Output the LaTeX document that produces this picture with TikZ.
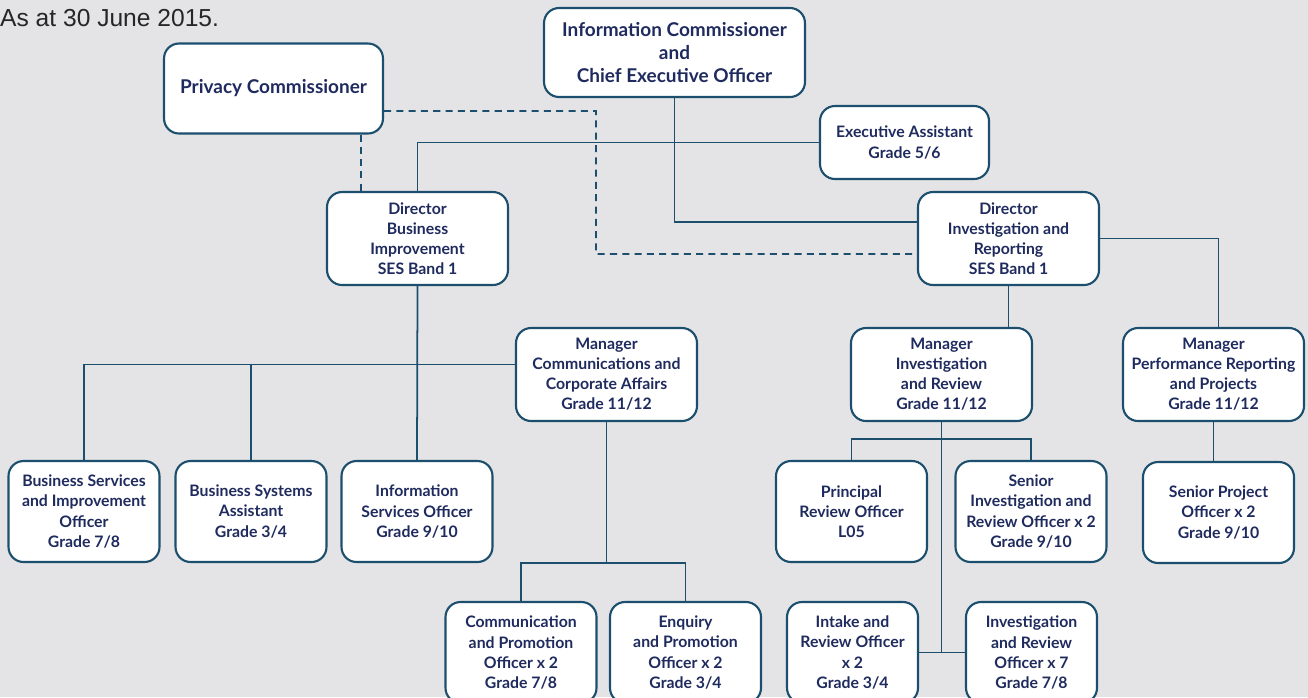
\documentclass[tikz,border=0pt]{standalone}
\usepackage{fontspec}
\setmainfont{Liberation Sans}
\newfontfamily\boxfont{Lato}
\usetikzlibrary{positioning}
\definecolor{pagegray}{RGB}{228,228,230}
\definecolor{framecol}{RGB}{28,79,110}
\definecolor{labelcol}{RGB}{31,43,94}
\begin{document}
\begin{tikzpicture}[
      x=0.02cm, y=-0.02cm,
      unit/.style={rectangle, draw=framecol, line width=1.2pt, fill=white, rounded corners=0.3cm, align=center, text=labelcol, font=\boxfont\bfseries\fontsize{9}{11.4}\selectfont, inner sep=1pt},
      head/.style={unit, font=\boxfont\bfseries\fontsize{10.8}{13}\selectfont},
      small/.style={unit, minimum width=3.02cm, minimum height=2.02cm},
      mid/.style={unit, minimum width=3.62cm, minimum height=1.86cm},
      link/.style={draw=framecol, line width=1pt},
      dotted link/.style={link, dashed, dash pattern=on 4pt off 3pt}
  ]
      \fill[pagegray] (0,0) rectangle (1308,697);
      \useasboundingbox (0,0) rectangle (1308,697);
      \node[anchor=west, font=\fontsize{14}{16}\selectfont, text=black!85] (date) at (-6,18) {As at 30 June 2015.};

      % Top level
      \node[head, minimum width=5.22cm, minimum height=1.78cm] (ic) at (674.5,52.5) {Information Commissioner\\ and\\ Chief Executive Officer};
      \node[head, minimum width=4.38cm, minimum height=1.8cm] (pc) at (273.5,88.5) {Privacy Commissioner};
      \node[unit, minimum width=3.38cm, minimum height=1.46cm] (ea) at (904.5,142.5) {Executive Assistant\\ Grade 5/6};

      % Directors
      \node[mid] (dbi) at (417.5,238.5) {Director\\ Business\\ Improvement\\ SES Band 1};
      \node[mid] (dir) at (1008.5,238.5) {Director\\ Investigation and\\ Reporting\\ SES Band 1};

      % Managers
      \node[mid] (mcc) at (606.5,374.5) {Manager\\ Communications and\\ Corporate Affairs\\ Grade 11/12};
      \node[mid] (mir) at (941.5,374.5) {Manager\\ Investigation\\ and Review\\ Grade 11/12};
      \node[mid] (mpr) at (1213.5,374.5) {Manager\\ Performance Reporting\\ and Projects\\ Grade 11/12};

      % Officers
      \node[small] (bso) at (84,511.5) {Business Services\\ and Improvement\\ Officer\\ Grade 7/8};
      \node[small] (bsa) at (251,511.5) {Business Systems\\ Assistant\\ Grade 3/4};
      \node[small] (iso) at (417,511.5) {Information\\ Services Officer\\ Grade 9/10};
      \node[small] (pro) at (851.5,511.5) {Principal\\ Review Officer\\ L05};
      \node[small] (sir) at (1031,511.5) {Senior\\ Investigation and\\ Review Officer x 2\\ Grade 9/10};
      \node[small] (spo) at (1218.5,512.5) {Senior Project\\ Officer x 2\\ Grade 9/10};
      \node[small] (cpo) at (521,652.5) {Communication\\ and Promotion\\ Officer x 2\\ Grade 7/8};
      \node[small] (epo) at (685.5,652.5) {Enquiry\\ and Promotion\\ Officer x 2\\ Grade 3/4};
      \node[small, minimum width=2.62cm] (iro) at (852.5,652.5) {Intake and\\ Review Officer\\ x 2\\ Grade 3/4};
      \node[small, minimum width=2.62cm] (ivo) at (1031.5,652.5) {Investigation\\ and Review\\ Officer x 7\\ Grade 7/8};

      \coordinate (pcbend) at (596,254);
      \coordinate (ccbus) at (606.5,563);
      \coordinate (bibus) at ([yshift=0.2cm]mcc.west);

      % Reporting lines
      \draw[link] (ic.south) |- (ea.west);
      \draw[link] (ea.west) -| (dbi.north);
      \draw[link] (ic.south) |- ([yshift=0.33cm]dir.west);
      \draw[dotted link] ([yshift=-0.45cm]pc.east) -| (pcbend) -- ([yshift=-0.31cm]dir.west);
      \draw[dotted link] ([xshift=1.75cm]pc.south) -- ([xshift=1.75cm]pc.south |- dbi.north);

      \draw[link] (dbi.south) -- (iso.north);
      \draw[link] (bso.north) |- (bibus);
      \draw[link] (bsa.north) -- (bsa.north |- bibus);
      \draw[link] (mcc.south) -- (ccbus);
      \draw[link] (cpo.north) |- (ccbus) -| (epo.north);

      \draw[link] (dir.south) -- (dir.south |- mir.north);
      \draw[link] (dir.east) -| ([xshift=0.1cm]mpr.north);
      \draw[link] (mpr.south) -- (mpr.south |- spo.north);

      \draw[link] (mir.south) -- (mir.south |- iro.east);
      \draw[link] (iro.east) -- (ivo.west);
      \draw[link] (pro.north) |- ([yshift=-0.34cm]mir.south) -| (sir.north);
  \end{tikzpicture}
\end{document}
